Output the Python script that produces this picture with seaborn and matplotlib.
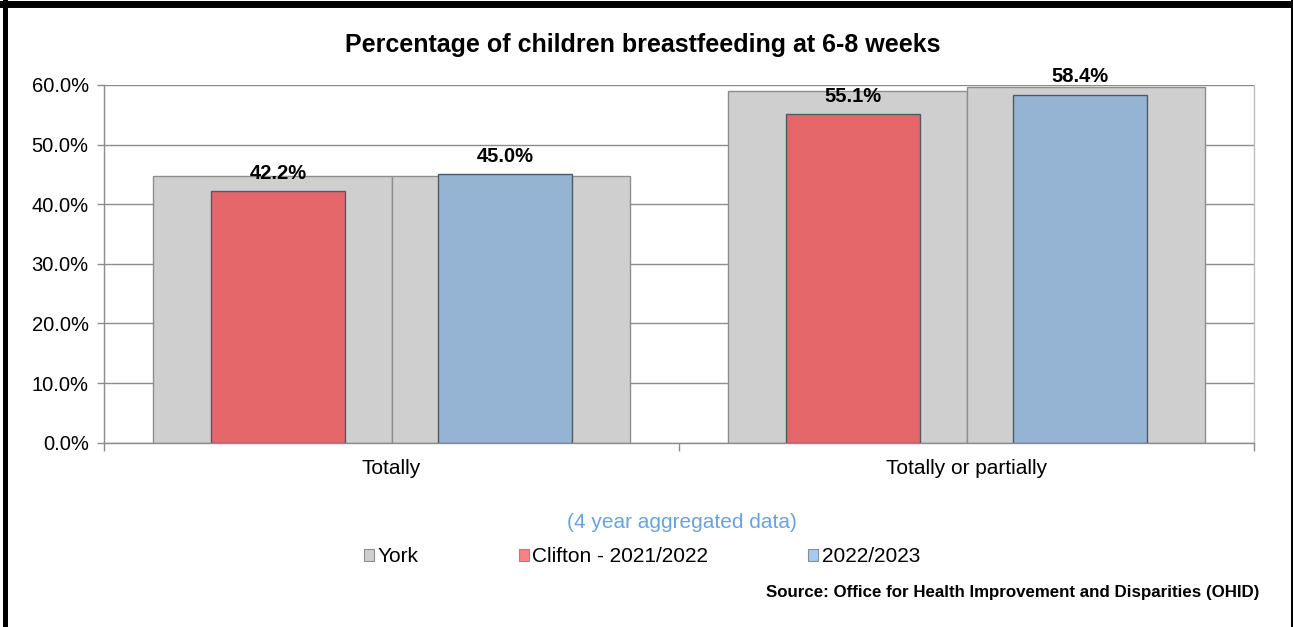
"""
Percentage of children breastfeeding at 6-8 weeks (Clifton vs York)
"""

import numpy as np
import pandas as pd
import matplotlib
matplotlib.use("Agg")
import matplotlib.pyplot as plt
from matplotlib.lines import Line2D
from matplotlib.patches import Patch
from matplotlib.ticker import FixedLocator, PercentFormatter
import seaborn as sns

# Veri
categories = ["Totally", "Totally or partially"]
periods = ["2021/2022", "2022/2023"]
york_values = [44.8, 44.8, 59.0, 59.6]
clifton_values = [42.2, 45.0, 55.1, 58.4]
legend_labels = ["York", "Clifton - 2021/2022", "2022/2023"]

# Renkler
GRAY = "#CFCFCF"
RED = "#E6676A"
BLUE = "#95B3D2"
GRID = "#8C8C8C"


def main():
    sns.set_theme(style="white")
    plt.rcParams["font.family"] = ["Liberation Sans", "DejaVu Sans"]
    plt.rcParams["text.color"] = "black"
    plt.rcParams["xtick.labelcolor"] = "black"
    plt.rcParams["ytick.labelcolor"] = "black"

    df = pd.DataFrame({
        "category": np.repeat(categories, len(periods)),
        "period": periods * len(categories),
        "york": york_values,
        "clifton": clifton_values,
    })

    fig = plt.figure(figsize=(12.93, 6.27), dpi=100)
    ax = fig.add_axes([104 / 1293, 1 - 442.7 / 627, 1150 / 1293, 357.7 / 627])

    # York (arka plan, geniş gri barlar)
    sns.barplot(data=df, x="category", y="york", hue="period", hue_order=periods,
                palette=[GRAY, GRAY], width=0.83, saturation=1, legend=False,
                edgecolor="#8E8E8E", linewidth=1, ax=ax, zorder=2)

    # Clifton (önde, dar barlar)
    sns.barplot(data=df, x="category", y="clifton", hue="period", hue_order=periods,
                palette=[RED, BLUE], width=0.79, gap=0.41, saturation=1, legend=False,
                edgecolor="#505A66", linewidth=1, ax=ax, zorder=3)

    for cont in ax.containers[2:]:
        ax.bar_label(cont, labels=[f"{v:.1f}%" for v in cont.datavalues],
                     padding=6, fontsize=14.5, fontweight="bold", color="black")

    ax.set_ylim(0, 60)
    ax.set_xlim(-0.5, 1.5)
    ax.yaxis.set_major_locator(FixedLocator(np.arange(0, 61, 10)))
    ax.yaxis.set_major_formatter(PercentFormatter(decimals=1))
    ax.grid(axis="y", color=GRID, linewidth=1, zorder=0)
    ax.set_axisbelow(True)
    ax.set_xlabel("")
    ax.set_ylabel("")

    for side in ["left", "right", "bottom"]:
        ax.spines[side].set_color(GRID)
        ax.spines[side].set_linewidth(1)
    ax.spines["top"].set_visible(False)
    ax.spines["right"].set_color("#BFBFBF")

    ax.tick_params(axis="y", which="major", direction="out", length=5, width=1,
                   color=GRID, labelsize=14.5, pad=6, left=True)
    ax.tick_params(axis="x", which="major", length=0, labelsize=15, pad=12)
    ax.xaxis.set_minor_locator(FixedLocator([-0.5, 0.5, 1.5]))
    ax.tick_params(axis="x", which="minor", direction="out", length=6, width=1,
                   color=GRID, bottom=True)

    fig.text(0.497, 1 - 45 / 627, "Percentage of children breastfeeding at 6-8 weeks",
             ha="center", va="center", fontsize=18, fontweight="bold")
    fig.text(682 / 1293, 1 - 523 / 627, "(4 year aggregated data)",
             ha="center", va="center", fontsize=15, color="#6AA3DC")
    fig.text(1259 / 1293, 1 - 592 / 627,
             "Source: Office for Health Improvement and Disparities (OHID)",
             ha="right", va="center", fontsize=12.2, fontweight="bold")

    handles = [Patch(facecolor=GRAY, edgecolor="#8E8E8E", linewidth=0.8),
               Patch(facecolor="#FF8080", edgecolor="#8E8E8E", linewidth=0.8),
               Patch(facecolor="#A6CAF0", edgecolor="#8E8E8E", linewidth=0.8)]
    fig.legend(handles, legend_labels, loc="center", ncol=3,
               bbox_to_anchor=(642 / 1293, 1 - 557 / 627), frameon=False,
               fontsize=15, handlelength=0.5, handleheight=0.5,
               handletextpad=0.15, columnspacing=4.8, borderaxespad=0)

    # Çerçeve
    fig.add_artist(Line2D([4.5 / 1293, 4.5 / 1293], [0, 1], color="black",
                          linewidth=3.6, transform=fig.transFigure))
    fig.add_artist(Line2D([0, 1], [1 - 3.5 / 627, 1 - 3.5 / 627], color="black",
                          linewidth=5, transform=fig.transFigure))
    fig.add_artist(Line2D([1291.5 / 1293, 1291.5 / 1293], [0, 1], color="black",
                          linewidth=2.2, transform=fig.transFigure))

    fig.savefig("out.png", dpi=100)
    plt.close(fig)


if __name__ == "__main__":
    main()
